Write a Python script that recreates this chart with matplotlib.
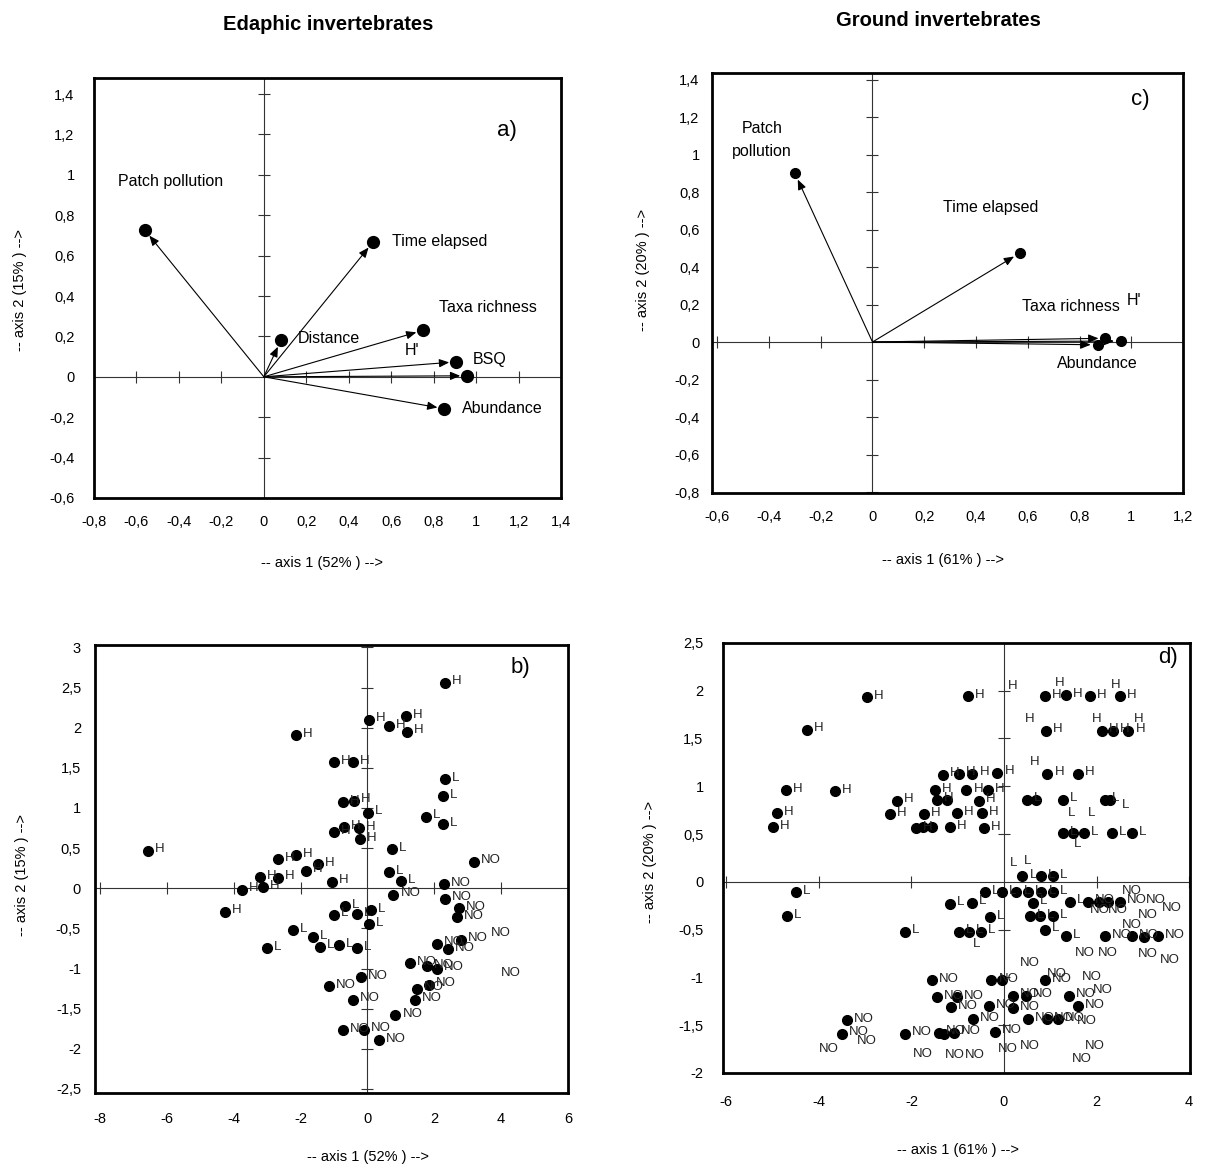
import matplotlib.pyplot as plt
from matplotlib.ticker import FuncFormatter

plt.rcParams['font.family'] = ['Liberation Sans', 'DejaVu Sans']

# ---------------- data ----------------
# a) edaphic invertebrates, variables
a_names = ["Patch pollution", "Time elapsed", "Distance", "Taxa richness", "BSQ", "H'", "Abundance"]
a_x = [-0.56, 0.514, 0.08, 0.75, 0.906, 0.958, 0.85]
a_y = [0.726, 0.667, 0.18, 0.23, 0.074, 0.005, -0.158]

# c) ground invertebrates, variables
c_names = ["Patch\npollution", "Time elapsed", "Taxa richness", "H'", "Abundance"]
c_x = [-0.30, 0.57, 0.90, 0.96, 0.87]
c_y = [0.90, 0.475, 0.02, 0.005, -0.015]

# b) edaphic invertebrates, samples
b_H_x = [-2.13, -0.99, -0.42, -6.56, -2.68, -2.13, -1.48, 0.06, 0.66, 1.15, 1.18, 2.33,
         -0.72, -0.39, -0.99, -0.69, -0.26, -0.22, -3.22, -2.67, -1.85, -1.07, -3.74, -3.13, -4.27]
b_H_y = [1.91, 1.57, 1.57, 0.47, 0.36, 0.41, 0.30, 2.10, 2.02, 2.14, 1.95, 2.56,
         1.07, 1.09, 0.70, 0.76, 0.75, 0.61, 0.14, 0.13, 0.22, 0.08, -0.02, 0.01, -0.29]
b_L_x = [2.32, 2.25, 1.75, 2.25, 0.01, 0.74, 0.66, 1.00, -0.68, -1.01, -0.32, 0.11, 0.06,
         -2.23, -1.63, -2.99, -1.43, -0.85, -0.32]
b_L_y = [1.36, 1.15, 0.89, 0.80, 0.94, 0.49, 0.20, 0.09, -0.22, -0.33, -0.32, -0.27, -0.45,
         -0.52, -0.61, -0.75, -0.73, -0.71, -0.75]
b_NO_x = [3.19, 0.78, 2.30, 2.33, 2.75, 2.67, 2.07, 2.40, 2.81, 1.27, 1.78, 2.07, -0.19,
          1.48, 1.83, 1.43, -0.44, -1.16, 0.84, -0.74, -0.09, 0.36]
b_NO_y = [0.33, -0.08, 0.05, -0.13, -0.25, -0.36, -0.69, -0.76, -0.64, -0.93, -0.97, -1.00, -1.11,
          -1.25, -1.20, -1.39, -1.39, -1.22, -1.58, -1.77, -1.76, -1.89]
b_NO_extra_x = [3.99, 4.29]
b_NO_extra_y = [-0.56, -1.06]

# d) ground invertebrates, samples
d_H_x = [-2.95, -4.26, -4.71, -4.90, -5.00, -3.66, -2.32, -2.46, -1.73, -1.45, -1.49, -1.32,
         -1.90, -0.97, -0.68, -0.14, -0.81, -0.34, -0.55, -1.02, -0.48, -1.17, -0.43,
         -0.77, 0.89, 1.34, 1.86, 2.51, 0.91, 2.11, 2.35, 2.69, 0.94, 1.60]
d_H_y = [1.93, 1.59, 0.96, 0.72, 0.57, 0.95, 0.85, 0.71, 0.71, 0.86, 0.96, 1.12,
         0.56, 1.13, 1.13, 1.14, 0.96, 0.96, 0.85, 0.72, 0.72, 0.57, 0.56,
         1.94, 1.94, 1.95, 1.94, 1.94, 1.58, 1.58, 1.58, 1.58, 1.13, 1.13]
d_L_x = [0.50, 1.28, 2.18, 1.28, 1.73, 2.33, 2.76, 0.40, 0.80, 1.06,
         -0.41, -0.05, 0.27, 0.52, 0.81, 1.06, -1.17, -0.70, 0.63, 1.43,
         -0.30, 0.56, 0.78, 1.06, -2.14, -0.97, -0.75, -0.50, 0.89, 1.34, -4.49, -4.68]
d_L_y = [0.86, 0.86, 0.86, 0.51, 0.51, 0.51, 0.51, 0.06, 0.06, 0.06,
         -0.11, -0.11, -0.11, -0.11, -0.11, -0.11, -0.23, -0.22, -0.22, -0.21,
         -0.37, -0.36, -0.36, -0.36, -0.52, -0.52, -0.52, -0.52, -0.50, -0.57, -0.11, -0.36]
d_NO_x = [1.82, 2.51, 2.18, 2.76, 3.33, -0.27, 0.89, -1.56, 1.41, 0.48,
          0.20, -1.45, -1.02, 1.60, -0.32, -1.15, 0.20, 0.52, 0.92, 1.17, -0.66, -1.09,
          -1.40, -0.19, -2.14, -3.40, -3.49]
d_NO_y = [-0.21, -0.21, -0.57, -0.57, -0.57, -1.03, -1.03, -1.03, -1.19, -1.19,
          -1.19, -1.21, -1.21, -1.30, -1.30, -1.31, -1.32, -1.44, -1.44, -1.44, -1.44, -1.58,
          -1.58, -1.57, -1.59, -1.45, -1.59]
# dots partly hidden behind neighbours, no own label
d_hidden_x = [2.05, 2.25, 3.02, -1.75, -1.55, -1.24, 0.70, 1.50, 2.30, -0.05, -1.30]
d_hidden_y = [-0.21, -0.21, -0.58, 0.57, 0.57, 0.86, 0.86, 0.51, 0.86, -1.03, -1.59]
d_NO_extra_x = [2.76, 3.28, 3.62, 2.07, 2.46, 3.11, 2.76, 1.75, 2.25, 3.11, 3.58, 0.56, 1.14,
                1.89, 2.14, 1.79, 1.97, 1.68, 0.56, 0.08, -1.06, -0.63, -3.78, -2.97, -1.76]
d_NO_extra_y = [-0.10, -0.19, -0.27, -0.30, -0.30, -0.35, -0.45, -0.75, -0.75, -0.76, -0.82, -0.85, -0.96,
                -1.00, -1.13, -1.46, -1.72, -1.85, -1.72, -1.75, -1.81, -1.81, -1.75, -1.67, -1.80]
d_H_extra_x = [0.19, 1.21, 2.42, 0.55, 0.66, 2.0, 2.9]
d_H_extra_y = [2.05, 2.08, 2.06, 1.70, 1.25, 1.70, 1.70]
d_L_extra_x = [2.62, 1.46, 1.90, 0.20, 0.50, -0.60, 1.58]
d_L_extra_y = [0.80, 0.72, 0.72, 0.20, 0.22, -0.65, 0.40]


def comma_fmt(v, pos=None):
    if abs(v - round(v)) < 1e-9:
        return f"{int(round(v))}"
    return f"{v:.1f}".replace(".", ",")


def setup(ax, xlim, ylim, xticks, yticks, xpad, ypad):
    ax.set_xlim(xlim)
    ax.set_ylim(ylim)
    ax.set_xticks(xticks)
    ax.set_yticks(yticks)
    ax.xaxis.set_major_formatter(FuncFormatter(comma_fmt))
    ax.yaxis.set_major_formatter(FuncFormatter(comma_fmt))
    ax.tick_params(axis="x", length=0, labelsize=10.5, pad=xpad)
    ax.tick_params(axis="y", length=0, labelsize=10.5, pad=ypad)
    for s in ax.spines.values():
        s.set_linewidth(2)
    # inner axes through the origin with cross ticks
    ax.axhline(0, color="#333333", lw=0.8, zorder=1)
    ax.axvline(0, color="#333333", lw=0.8, zorder=1)
    xt = [t for t in xticks if abs(t) > 1e-9 and xlim[0] < t < xlim[1]]
    yt = [t for t in yticks if abs(t) > 1e-9 and ylim[0] < t < ylim[1]]
    ax.plot(xt, [0] * len(xt), linestyle="none", marker="|", ms=8, mew=0.8, color="#333333", zorder=1)
    ax.plot([0] * len(yt), yt, linestyle="none", marker="_", ms=8, mew=0.8, color="#333333", zorder=1)


def arrows(ax, xs, ys, ms):
    for x, y in zip(xs, ys):
        ax.annotate("", xy=(x, y), xytext=(0, 0),
                    arrowprops=dict(arrowstyle="-|>,head_length=0.6,head_width=0.25",
                                    color="black", lw=0.8, shrinkA=0, shrinkB=5))
    ax.plot(xs, ys, "o", color="black", ms=ms, zorder=3)


def samples(ax, xs, ys, lab):
    ax.plot(xs, ys, "o", color="black", ms=7, zorder=3)
    for x, y in zip(xs, ys):
        ax.annotate(lab, (x, y), xytext=(5, 1), textcoords="offset points",
                    ha="left", va="center", fontsize=9.5, color="#222222")


def extra_labels(ax, xs, ys, lab):
    for x, y in zip(xs, ys):
        ax.text(x, y, lab, ha="center", va="center", fontsize=9.5, color="#222222")


fig = plt.figure(figsize=(12.05, 11.67), dpi=100)

# ---------- a) ----------
ax_a = fig.add_axes([0.0780, 0.5733, 0.3876, 0.3599])
setup(ax_a, (-0.8, 1.4), (-0.6, 1.48), [round(-0.8 + 0.2 * i, 1) for i in range(12)],
      [round(-0.6 + 0.2 * i, 1) for i in range(11)], 12, 14)
arrows(ax_a, a_x, a_y, 8.5)
a_off = {"Patch pollution": (0.12, 0.242, "center"), "Time elapsed": (0.089, 0.005, "left"),
         "Distance": (0.079, 0.008, "left"), "Taxa richness": (0.077, 0.111, "left"),
         "BSQ": (0.08, 0.01, "left"), "H'": (-0.258, 0.123, "center"),
         "Abundance": (0.085, 0.0, "left")}
for n, x, y in zip(a_names, a_x, a_y):
    dx, dy, ha = a_off[n]
    ax_a.text(x + dx, y + dy, n, ha=ha, va="center", fontsize=11.5)
ax_a.text(0.906, 0.876, "a)", transform=ax_a.transAxes, ha="right", va="center", fontsize=16)

# ---------- c) ----------
ax_c = fig.add_axes([0.5909, 0.5776, 0.3909, 0.3599])
setup(ax_c, (-0.62, 1.2), (-0.805, 1.435), [round(-0.6 + 0.2 * i, 1) for i in range(10)],
      [round(-0.8 + 0.2 * i, 1) for i in range(12)], 12, 9)
arrows(ax_c, c_x, c_y, 7)
c_off = {"Patch\npollution": (-0.127, 0.177, "center"), "Time elapsed": (-0.112, 0.245, "center"),
         "Taxa richness": (-0.323, 0.172, "left"), "H'": (0.05, 0.219, "center"),
         "Abundance": (-0.158, -0.097, "left")}
for n, x, y in zip(c_names, c_x, c_y):
    dx, dy, ha = c_off[n]
    ax_c.text(x + dx, y + dy, n, ha=ha, va="center", fontsize=11.5, linespacing=1.6)
ax_c.text(0.93, 0.936, "c)", transform=ax_c.transAxes, ha="right", va="center", fontsize=16)

# ---------- b) ----------
ax_b = fig.add_axes([0.0788, 0.0634, 0.3925, 0.3839])
setup(ax_b, (-8.15, 5.97), (-2.55, 3.03), [-8, -6, -4, -2, 0, 2, 4, 6],
      [-2.5, -2, -1.5, -1, -0.5, 0, 0.5, 1, 1.5, 2, 2.5, 3], 14, 10)
samples(ax_b, b_H_x, b_H_y, "H")
samples(ax_b, b_L_x, b_L_y, "L")
samples(ax_b, b_NO_x, b_NO_y, "NO")
extra_labels(ax_b, b_NO_extra_x, b_NO_extra_y, "NO")
ax_b.text(0.92, 0.949, "b)", transform=ax_b.transAxes, ha="right", va="center", fontsize=16)

# ---------- d) ----------
ax_d = fig.add_axes([0.6000, 0.0806, 0.3876, 0.3685])
setup(ax_d, (-6.07, 4.02), (-1.96, 2.48), [-6, -4, -2, 0, 2, 4],
      [-2, -1.5, -1, -0.5, 0, 0.5, 1, 1.5, 2, 2.5], 16, 14)
ax_d.plot(d_hidden_x, d_hidden_y, "o", color="black", ms=7, zorder=2)
samples(ax_d, d_H_x, d_H_y, "H")
samples(ax_d, d_L_x, d_L_y, "L")
samples(ax_d, d_NO_x, d_NO_y, "NO")
extra_labels(ax_d, d_NO_extra_x, d_NO_extra_y, "NO")
extra_labels(ax_d, d_H_extra_x, d_H_extra_y, "H")
extra_labels(ax_d, d_L_extra_x, d_L_extra_y, "L")
ax_d.text(0.974, 0.967, "d)", transform=ax_d.transAxes, ha="right", va="center", fontsize=16)

# ---------- titles and axis labels ----------
W, H = 1205, 1167
fig.text(328 / W, 1 - 25 / H, "Edaphic invertebrates", ha="center", va="center",
         fontsize=14.5, fontweight="bold")
fig.text(938 / W, 1 - 20 / H, "Ground invertebrates", ha="center", va="center",
         fontsize=14.5, fontweight="bold")
for (x, y, t) in [(322, 563, "-- axis 1 (52% ) -->"), (943, 560, "-- axis 1 (61% ) -->"),
                  (368, 1157, "-- axis 1 (52% ) -->"), (958, 1150, "-- axis 1 (61% ) -->")]:
    fig.text(x / W, 1 - y / H, t, ha="center", va="center", fontsize=10.5)
for (x, y, t) in [(20, 290, "-- axis 2 (15% ) -->"), (643, 270, "-- axis 2 (20% ) -->"),
                  (22, 875, "-- axis 2 (15% ) -->"), (650, 862, "-- axis 2 (20% ) -->")]:
    fig.text(x / W, 1 - y / H, t, ha="center", va="center", fontsize=10.5, rotation=90)

fig.savefig("out.png", dpi=100)
